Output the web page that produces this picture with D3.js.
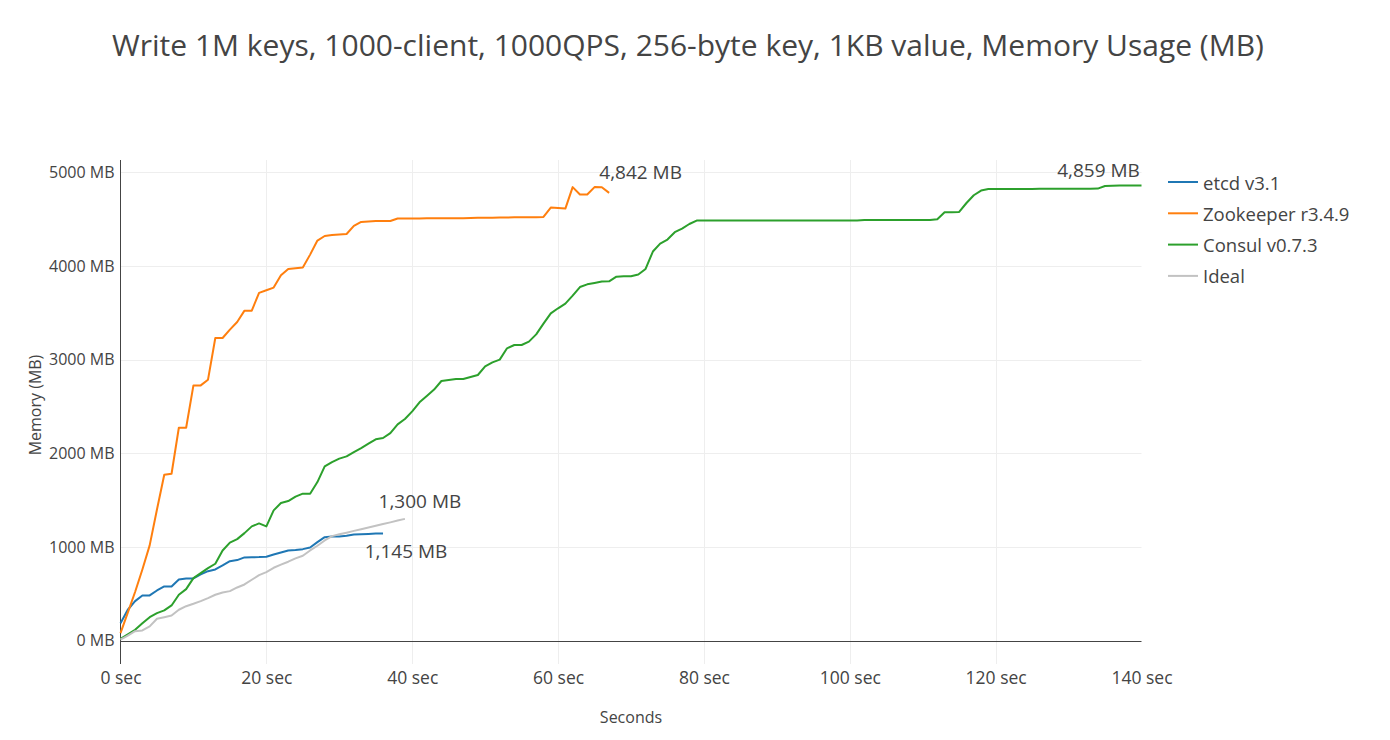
<!DOCTYPE html>
<html>
<head>
<meta charset="utf-8">
<script src="https://cdn.jsdelivr.net/npm/d3@7"></script>
<style>
  body { margin: 0; background: #fff; }
  svg text { font-family: "Open Sans", sans-serif; fill: #444; }
</style>
</head>
<body>
<div id="chart"></div>
<script>
// data (one point per second)
var seriesNames = ["etcd v3.1", "Zookeeper r3.4.9", "Consul v0.7.3", "Ideal"];

var etcdMB = [187, 330, 422, 483, 483, 536, 579, 579, 654, 664, 664, 707, 742, 760, 803, 849, 860, 889, 890, 892,
  896, 920, 942, 963, 967, 977, 995, 1052, 1105, 1113, 1113, 1120, 1134, 1137, 1140, 1143, 1145];

var zookeeperMB = [80, 300, 520, 760, 1017, 1400, 1772, 1782, 2273, 2273, 2725, 2725, 2786, 3231, 3231, 3320, 3402, 3523, 3523, 3712,
  3740, 3769, 3900, 3968, 3975, 3983, 4121, 4271, 4320, 4330, 4335, 4341, 4427, 4470, 4475, 4480, 4480, 4480, 4506, 4506,
  4506, 4506, 4508, 4508, 4508, 4508, 4510, 4510, 4512, 4515, 4515, 4515, 4517, 4517, 4520, 4520, 4520, 4520, 4523, 4623,
  4618, 4612, 4842, 4762, 4762, 4842, 4840, 4780];

var consulMB = [20, 68, 116, 185, 251, 294, 323, 376, 490, 550, 668, 721, 774, 821, 963, 1046, 1084, 1148, 1220, 1252,
  1220, 1391, 1469, 1490, 1537, 1569, 1569, 1693, 1860, 1906, 1943, 1967, 2013, 2056, 2103, 2149, 2163, 2216, 2309, 2366,
  2448, 2544, 2612, 2680, 2772, 2782, 2793, 2793, 2814, 2836, 2928, 2971, 3000, 3121, 3156, 3156, 3192, 3270, 3384, 3494,
  3548, 3598, 3683, 3775, 3804, 3818, 3833, 3836, 3886, 3890, 3890, 3908, 3968, 4154, 4239, 4282, 4360, 4399, 4448, 4484,
  4484, 4484, 4484, 4484, 4484, 4484, 4484, 4484, 4484, 4484, 4484, 4484, 4485, 4485, 4485, 4485, 4485, 4485, 4485, 4485,
  4486, 4486, 4490, 4490, 4490, 4490, 4490, 4490, 4490, 4490, 4490, 4490, 4498, 4573, 4574, 4576, 4672, 4755, 4805, 4822,
  4822, 4822, 4822, 4822, 4822, 4822, 4823, 4823, 4823, 4824, 4824, 4824, 4825, 4825, 4826, 4854, 4857, 4859, 4859, 4859,
  4859];

var idealMB = [10, 55, 101, 109, 152, 234, 251, 269, 330, 368, 394, 422, 454, 490, 515, 529, 568, 600, 650, 700,
  732, 778, 811, 843, 878, 907, 963, 1013, 1070, 1116, 1135, 1153, 1172, 1190, 1208, 1227, 1245, 1263, 1282, 1300];

var xTicks = [0, 20, 40, 60, 80, 100, 120, 140];
var yTicks = [0, 1000, 2000, 3000, 4000, 5000];

// end-of-line labels: series index, point (second), text
var labelSeries = [1, 2, 3, 0];
var labelSecond = [62, 140, 39, 36];
var labelText = ["4,842 MB", "4,859 MB", "1,300 MB", "1,145 MB"];

var colors = ["#1f77b4", "#ff7f0e", "#2ca02c", "#c2c2c2"];
var allSeries = [etcdMB, zookeeperMB, consulMB, idealMB];

// layout
var W = 1390, H = 740;
var plotLeft = 120.5, plotRight = 1141.5, plotTop = 160, plotBottom = 664;

var svg = d3.select("#chart").append("svg")
  .attr("width", W).attr("height", H);

var x = d3.scaleLinear().domain([0, 140]).range([plotLeft, plotRight]);
var y = d3.scaleLinear().domain([-249, 5131]).range([plotBottom, plotTop]);

// grid
svg.append("g").selectAll("line").data(yTicks.filter(function(d) { return d != 0; })).enter().append("line")
  .attr("x1", plotLeft).attr("x2", plotRight)
  .attr("y1", function(d) { return Math.round(y(d)) + 0.5; })
  .attr("y2", function(d) { return Math.round(y(d)) + 0.5; })
  .attr("stroke", "#eee").attr("stroke-width", 1);

svg.append("g").selectAll("line").data(xTicks.filter(function(d) { return d != 0 && d != 140; })).enter().append("line")
  .attr("x1", function(d) { return Math.round(x(d)) + 0.5; })
  .attr("x2", function(d) { return Math.round(x(d)) + 0.5; })
  .attr("y1", plotTop).attr("y2", plotBottom)
  .attr("stroke", "#eee").attr("stroke-width", 1);

// zero line
svg.append("line")
  .attr("x1", plotLeft).attr("x2", plotRight)
  .attr("y1", Math.round(y(0)) + 0.5).attr("y2", Math.round(y(0)) + 0.5)
  .attr("stroke", "#444").attr("stroke-width", 1);

// y axis
var yAxis = svg.append("g").attr("transform", "translate(" + plotLeft + ",0)")
  .call(d3.axisLeft(y).tickValues(yTicks).tickSize(0).tickPadding(6)
    .tickFormat(function(d) { return d + " MB"; }));
yAxis.select(".domain").remove();
yAxis.selectAll("text").style("font-size", "16px").style("font-family", "Open Sans").attr("fill", "#444");
svg.append("line")
  .attr("x1", plotLeft).attr("x2", plotLeft).attr("y1", plotTop).attr("y2", plotBottom)
  .attr("stroke", "#444").attr("stroke-width", 1);

// x axis
var xAxis = svg.append("g").attr("transform", "translate(0," + plotBottom + ")")
  .call(d3.axisBottom(x).tickValues(xTicks).tickSize(0).tickPadding(8)
    .tickFormat(function(d) { return d + " sec"; }));
xAxis.select(".domain").remove();
xAxis.selectAll("text").style("font-size", "17.5px").style("font-family", "Open Sans").attr("fill", "#444");

// axis titles
svg.append("text").attr("x", 631).attr("y", 723).attr("text-anchor", "middle")
  .style("font-size", "16px").text("Seconds");
svg.append("text").attr("transform", "translate(41,405) rotate(-90)").attr("text-anchor", "middle")
  .style("font-size", "16px").text("Memory (MB)");

// title
svg.append("text").attr("x", 688).attr("y", 56).attr("text-anchor", "middle")
  .style("font-size", "30px").text("Write 1M keys, 1000-client, 1000QPS, 256-byte key, 1KB value, Memory Usage (MB)");

// lines
var line = d3.line()
  .x(function(d, i) { return x(i); })
  .y(function(d) { return y(d); });

svg.append("g").selectAll("path").data(allSeries).enter().append("path")
  .attr("d", line)
  .attr("fill", "none")
  .attr("stroke", function(d, i) { return colors[i]; })
  .attr("stroke-width", 2)
  .attr("stroke-linejoin", "round");

// value labels
var labelDx = [68, -43, 15, 23];
var labelDy = [-15, -15, -18, 18];
svg.append("g").selectAll("text").data(labelText).enter().append("text")
  .attr("x", function(d, i) { return x(labelSecond[i]) + labelDx[i]; })
  .attr("y", function(d, i) { return y(allSeries[labelSeries[i]][labelSecond[i]]) + labelDy[i]; })
  .attr("text-anchor", "middle").attr("dominant-baseline", "central")
  .style("font-size", "19px")
  .text(function(d) { return d; });

// legend
var legend = svg.append("g").attr("transform", "translate(1168,182)");
var items = legend.selectAll("g").data(seriesNames).enter().append("g")
  .attr("transform", function(d, i) { return "translate(0," + (i * 31.3) + ")"; });
items.append("line").attr("x1", 0).attr("x2", 30).attr("y1", 0).attr("y2", 0)
  .attr("stroke", function(d, i) { return colors[i]; }).attr("stroke-width", 2);
items.append("text").attr("x", 35).attr("dominant-baseline", "central")
  .style("font-size", "18.5px").text(function(d) { return d; });
</script>
</body>
</html>
